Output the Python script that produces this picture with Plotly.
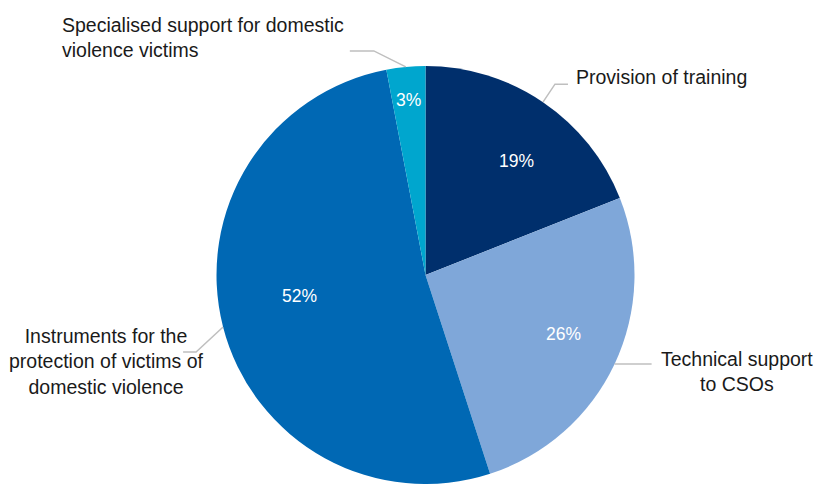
import math
import plotly.graph_objects as go

categories = ["Provision of training", "Technical support to CSOs",
              "Instruments for the protection of victims of domestic violence",
              "Specialised support for domestic violence victims"]
label_texts = ["Provision of training", "Technical support<br>to CSOs",
               "Instruments for the<br>protection of victims of<br>domestic violence",
               "Specialised support for domestic<br>violence victims"]
values = [19, 26, 52, 3]
colors = ["#002F6C", "#7FA7D9", "#0068B4", "#00A6CE"]

W, H = 817, 484
TOP = 66
R = (H - TOP) / 2.0
CX, CY = 425.5, TOP + R
FONT = "Liberation Sans Narrow, Arial Narrow, Liberation Sans, Arial, sans-serif"

fig = go.Figure()
fig.add_trace(go.Pie(
    labels=categories, values=values, sort=False, direction="clockwise", rotation=0,
    marker=dict(colors=colors, line=dict(width=0)),
    textinfo="none",
    domain=dict(x=[(CX - R) / W, (CX + R) / W], y=[0, 1]),
    showlegend=False, hoverinfo="label+percent",
))

total = sum(values)
cum = 0
mids = []
for v in values:
    mids.append((cum + v / 2) / total * 360)
    cum += v


def to_paper(px, py):
    # paper coords refer to the plot area (margins l=r=b=0, t=TOP)
    return px / W, (H - py) / (H - TOP)


# percentage labels inside the slices (radial fraction, angular nudge)
pct_place = [(0.70, 4.5), (0.72, -2.0), (0.61, 5.0), (0.84, 0.0)]
for v, ang, (rf, da) in zip(values, mids, pct_place):
    a = math.radians(ang + da)
    px = CX + rf * R * math.sin(a)
    py = CY - rf * R * math.cos(a)
    x, y = to_paper(px, py)
    fig.add_annotation(x=x, y=y, xref="paper", yref="paper",
                       text="{:.0f}%".format(v / total * 100), showarrow=False,
                       xanchor="center", yanchor="middle",
                       font=dict(size=17.5, color="white", family=FONT))

# leader lines (start on pie edge at slice mid-angle) + outside labels
label_cfg = [
    dict(elbow=(12, -18), end=13, pos=(574, 77), xanchor="left", align="left"),
    dict(elbow=(0, 0), end=37, pos=(737, 371), xanchor="center", align="center"),
    dict(elbow=(-27, 25), end=-13, pos=(106, 361), xanchor="center", align="center"),
    dict(elbow=(-32, -16), end=-24, pos=(60, 37), xanchor="left", align="left"),
]

for ang, txt, cfg in zip(mids, label_texts, label_cfg):
    a = math.radians(ang)
    x0 = CX + R * math.sin(a)
    y0 = CY - R * math.cos(a)
    x1 = x0 + cfg["elbow"][0]
    y1 = y0 + cfg["elbow"][1]
    x2 = x1 + cfg["end"]
    pts = [to_paper(x0, y0), to_paper(x1, y1), to_paper(x2, y1)]
    path = "M {} {} L {} {} L {} {}".format(pts[0][0], pts[0][1], pts[1][0], pts[1][1],
                                            pts[2][0], pts[2][1])
    fig.add_shape(type="path", path=path, xref="paper", yref="paper",
                  line=dict(color="#BFBFBF", width=1.5))
    lx, ly = to_paper(*cfg["pos"])
    fig.add_annotation(x=lx, y=ly, xref="paper", yref="paper", text=txt,
                       showarrow=False, xanchor=cfg["xanchor"], yanchor="middle",
                       align=cfg["align"], font=dict(size=19.5, color="#1A1A1A", family=FONT))

fig.update_layout(width=W, height=H, margin=dict(l=0, r=0, t=TOP, b=0),
                  paper_bgcolor="white", plot_bgcolor="white")
fig.write_html("out.html")
